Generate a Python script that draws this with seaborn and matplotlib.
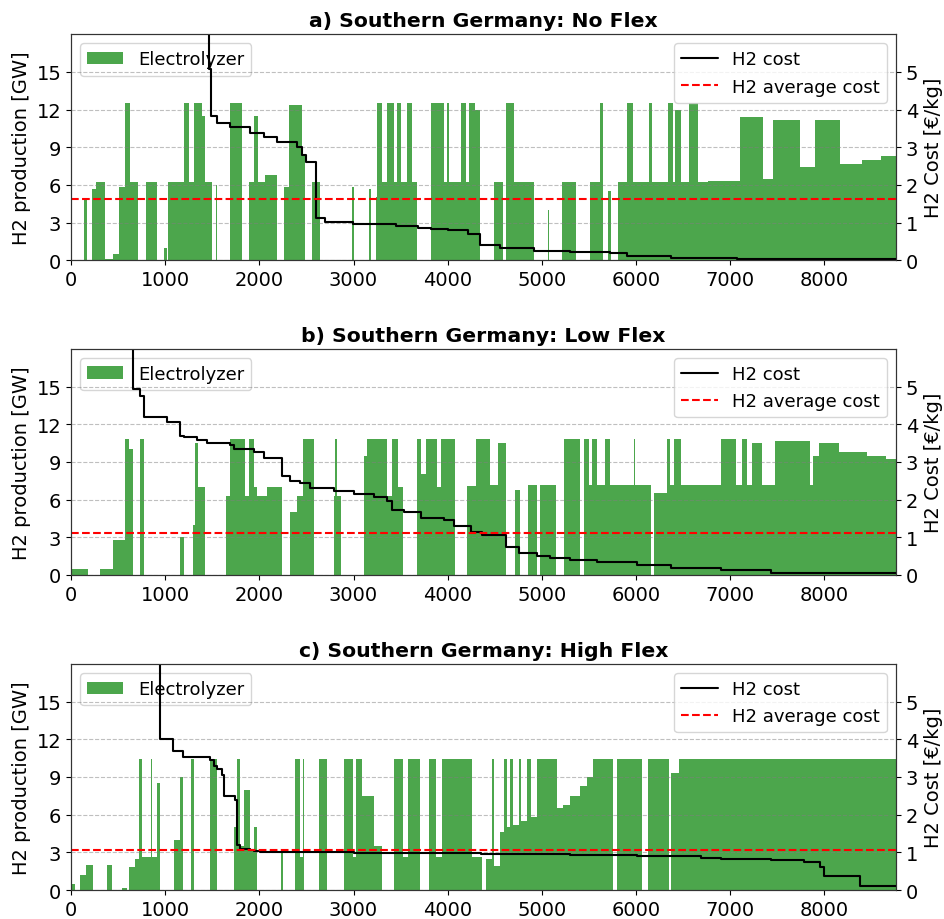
import numpy as np
import matplotlib
matplotlib.use("Agg")
import matplotlib.pyplot as plt
import seaborn as sns

# hours of the year (x axis end)
HOURS = 8760

# --- electrolyzer output: block start hour and GW level ---
a_start = [0, 142, 174, 220, 270, 362, 450, 510, 574, 628, 716, 798, 911, 985, 1018,
           1035, 1195, 1248, 1301, 1390, 1426, 1496, 1535, 1550, 1691, 1816, 1887, 1940,
           1982, 2064, 2188, 2259, 2312, 2454, 2489, 2560, 2642, 2986, 3000, 3163, 3181,
           3234, 3252, 3305, 3358, 3429, 3464, 3500, 3564, 3624, 3677, 3819, 3961, 3996,
           4014, 4138, 4191, 4230, 4291, 4344, 4493, 4586, 4621, 4699, 4919, 5060, 5075,
           5213, 5366, 5507, 5614, 5646, 5702, 5734, 5805, 5905, 5968, 6139, 6171, 6337,
           6390, 6408, 6479, 6561, 6656, 6765, 7104, 7348, 7454, 7740, 7900, 8165, 8400,
           8600]
a_gw = [0, 4.8, 0, 5.7, 6.2, 0.1, 0.5, 5.8, 12.5, 6.2, 0, 6.2, 0, 1.0, 0,
        6.2, 12.5, 6.2, 12.5, 11.5, 6.2, 0, 6.0, 0, 12.5, 0, 6.2, 11.5,
        6.2, 6.8, 0, 5.8, 12.4, 8.5, 0, 6.2, 0, 5.8, 0, 5.7, 0,
        5.0, 12.5, 6.2, 12.5, 6.2, 12.5, 6.2, 12.5, 6.2, 0, 12.5, 6.2, 12.5,
        6.2, 12.5, 6.2, 12.5, 12.0, 0, 6.2, 0, 12.5, 6.2, 0, 4.0, 0,
        6.2, 0, 6.2, 12.5, 0, 5.5, 0, 6.2, 12.5, 6.2, 12.5, 6.2, 12.5,
        6.2, 12.0, 6.2, 12.5, 6.2, 6.3, 11.4, 6.5, 11.2, 7.4, 11.2, 7.7, 8.0,
        8.3]

b_start = [0, 177, 308, 443, 574, 621, 656, 734, 777, 1160, 1202, 1294, 1320, 1344,
           1426, 1642, 1691, 1851, 1887, 1940, 1975, 2082, 2241, 2330, 2401, 2465,
           2585, 2791, 2805, 2820, 2862, 3110, 3145, 3351, 3411, 3472, 3528, 3677,
           3713, 3766, 3890, 3926, 4078, 4209, 4298, 4450, 4539, 4621, 4717, 4763,
           4848, 4947, 4976, 5153, 5238, 5408, 5444, 5497, 5532, 5585, 5674, 5727,
           5975, 5990, 6153, 6188, 6330, 6355, 6401, 6472, 6898, 7057, 7128, 7181,
           7234, 7341, 7472, 7848, 7883, 7943, 8156, 8450, 8650]
b_gw = [0.5, 0, 0.5, 2.8, 10.8, 10.0, 0, 10.8, 0, 3.0, 0, 4.0, 10.5, 7.0,
        0, 6.3, 10.8, 6.3, 10.8, 7.0, 6.3, 7.0, 0, 5.0, 6.3, 10.8,
        0, 6.3, 10.8, 6.3, 0, 9.5, 10.8, 6.3, 10.8, 7.0, 0, 10.8,
        8.0, 10.8, 7.0, 10.8, 0, 7.1, 10.8, 7.2, 10.5, 0, 6.8, 0,
        7.2, 0, 7.2, 0, 10.8, 0, 10.8, 7.2, 10.8, 7.2, 10.8, 7.2,
        10.8, 7.2, 0, 6.5, 10.8, 7.2, 10.8, 7.2, 10.8, 7.2, 10.8, 7.2,
        10.5, 7.2, 10.7, 7.2, 9.5, 10.5, 9.8, 9.5, 9.2]

c_start = [0, 42, 96, 160, 238, 387, 433, 539, 592, 621, 681, 727, 759, 848, 862, 911,
           940, 1089, 1160, 1188, 1273, 1301, 1472, 1550, 1734, 1762, 1791, 1833, 1904,
           1940, 1975, 2230, 2250, 2383, 2436, 2465, 2479, 2638, 2720, 2897, 2996, 3021,
           3092, 3216, 3305, 3429, 3528, 3578, 3706, 3801, 3879, 3943, 4258, 4364, 4406,
           4470, 4486, 4555, 4600, 4627, 4660, 4697, 4760, 4780, 4840, 4880, 4948, 5160,
           5224, 5300, 5400, 5480, 5543, 5755, 5797, 6063, 6127, 6348, 6366, 6454]
c_gw = [0.5, 0, 1.2, 2.0, 0, 2.0, 0, 0.2, 0, 1.8, 2.5, 10.4, 2.6, 10.4, 2.6, 8.5,
        0, 4.0, 9.0, 0, 10.4, 0, 10.4, 0, 5.0, 10.4, 3.5, 8.0, 3.3,
        5.0, 0, 3.0, 0, 10.4, 2.6, 10.4, 0, 10.4, 0, 10.4, 2.6, 10.4,
        7.5, 3.5, 0, 10.4, 2.6, 10.4, 0, 10.4, 2.6, 10.4, 2.6, 0, 2.5,
        10.4, 1.9, 4.6, 10.4, 5.0, 10.4, 5.2, 10.4, 5.5, 10.4, 5.8, 10.4, 6.5,
        6.8, 7.5, 8.3, 9.0, 10.4, 0, 10.4, 0, 10.4, 0, 9.3, 10.4]

# --- H2 cost curve (sorted), breakpoints: hour, EUR/kg ---
a_cost_h = [0, 900, 1300, 1468, 1490, 1550, 1690, 1900, 2050, 2190, 2400, 2450, 2490,
            2600, 2700, 2990, 3450, 3680, 3820, 4000, 4210, 4344, 4557, 4912, 5302,
            5727, 5905, 6366, 7075, 7784, 8760]
a_cost = [15, 9, 6.5, 5.07, 3.83, 3.65, 3.54, 3.39, 3.27, 3.14, 3.0, 2.8, 2.62,
          1.12, 1.02, 0.96, 0.9, 0.85, 0.82, 0.8, 0.69, 0.41, 0.32, 0.25, 0.21,
          0.18, 0.12, 0.07, 0.04, 0.03, 0.02]

b_cost_h = [0, 400, 656, 734, 770, 780, 1018, 1160, 1195, 1337, 1443, 1691, 1727,
            1940, 2046, 2241, 2330, 2436, 2543, 2791, 3004, 3216, 3358, 3411, 3535,
            3713, 3961, 4067, 4245, 4362, 4621, 4752, 4947, 5089, 5302, 5585, 6011,
            6366, 6898, 7075, 7429, 8760]
b_cost = [15, 8, 4.94, 4.75, 4.3, 4.18, 4.06, 3.7, 3.66, 3.58, 3.5, 3.44, 3.33,
          3.25, 3.1, 2.62, 2.48, 2.43, 2.3, 2.23, 2.15, 2.08, 1.95, 1.73, 1.66,
          1.52, 1.46, 1.3, 1.15, 1.05, 0.75, 0.57, 0.5, 0.44, 0.39, 0.33, 0.26,
          0.18, 0.14, 0.12, 0.05, 0.04]

c_cost_h = [0, 600, 940, 1082, 1188, 1479, 1514, 1550, 1603, 1620, 1745, 1762, 1798,
            1904, 1940, 2011, 3004, 4351, 5302, 6011, 6685, 6898, 7429, 7784, 7954,
            7990, 8380, 8760]
c_cost = [15, 8, 4.01, 3.7, 3.52, 3.45, 3.3, 3.2, 3.05, 2.5, 2.4, 1.2, 1.1,
          1.07, 1.03, 1.0, 0.98, 0.96, 0.93, 0.91, 0.86, 0.82, 0.79, 0.75, 0.6,
          0.38, 0.1, 0.1]

avg_cost = [1.62, 1.115, 1.06]

titles = ["a) Southern Germany: No Flex",
          "b) Southern Germany: Low Flex",
          "c) Southern Germany: High Flex"]

panels = [(a_start, a_gw, a_cost_h, a_cost),
          (b_start, b_gw, b_cost_h, b_cost),
          (c_start, c_gw, c_cost_h, c_cost)]

sns.set_style("ticks")
plt.rcParams["font.family"] = ["DejaVu Sans"]
plt.rcParams["text.color"] = "black"
plt.rcParams["axes.labelcolor"] = "black"
plt.rcParams["xtick.color"] = "black"
plt.rcParams["ytick.color"] = "black"

fig = plt.figure(figsize=(9.44, 9.2), dpi=100)
bottoms = [0.716, 0.374, 0.0315]

for i, (start, gw, cost_h, cost) in enumerate(panels):
    ax = fig.add_axes([0.0752, bottoms[i], 0.874, 0.2457])
    x = np.array(start + [HOURS])
    y = np.array(gw + [gw[-1]])
    ax.fill_between(x, y, step="post", color="green", alpha=0.7, linewidth=0,
                    label="Electrolyzer")
    ax.set_xlim(0, HOURS)
    ax.set_ylim(0, 18)
    ax.set_yticks([0, 3, 6, 9, 12, 15])
    ax.set_xticks(range(0, 9000, 1000))
    ax.set_ylabel("H2 production [GW]", fontsize=14)
    ax.tick_params(labelsize=14)
    ax.set_title(titles[i], fontsize=14.7, fontweight="bold")
    ax.legend(loc="upper left", fontsize=13)

    ax2 = ax.twinx()
    sns.lineplot(x=cost_h, y=cost, drawstyle="steps-post", color="black",
                 linewidth=1.5, label="H2 cost", ax=ax2, sort=False)
    ax2.axhline(avg_cost[i], color="red", linestyle="--", linewidth=1.5,
                label="H2 average cost")
    ax2.set_ylim(0, 6)
    ax2.set_yticks([0, 1, 2, 3, 4, 5])
    ax2.set_ylabel("H2 Cost [€/kg]", fontsize=14)
    ax2.tick_params(labelsize=14)
    ax2.grid(axis="y", linestyle="--", color="gray", alpha=0.5)
    ax2.legend(loc="upper right", fontsize=13)
    for a in (ax, ax2):
        for s in a.spines.values():
            s.set_color("#333333")

fig.savefig("out.png", dpi=100)
